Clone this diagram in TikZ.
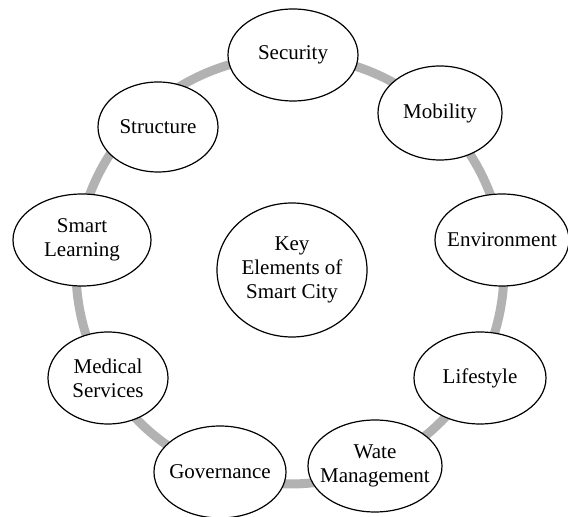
\documentclass[tikz,border=0pt]{standalone}
\usepackage{fontspec}
\setmainfont{Liberation Serif}
\usetikzlibrary{shapes}

\begin{document}
\begin{tikzpicture}[
    x=0.5pt, y=-0.5pt,
    elem/.style={draw, fill=white, ellipse, inner sep=0pt, inner xsep=-5pt, line width=0.6pt, minimum width=65pt, minimum height=46pt, font=\fontsize{10.5}{12}\selectfont, align=center},
    hubelem/.style={elem, minimum width=75pt, minimum height=67pt},
    ring/.style={draw=black!30, line width=4.5pt}
]
\useasboundingbox (0,0) rectangle (568,517);

% Ring behind the elements
\coordinate (hub) at (290,270);
\draw[ring] (hub) circle[radius=107pt];

% Centre
\node[hubelem] (key) at (292,270) {Key\\Elements of\\Smart City};

% Elements round the ring
\node[elem] (security) at (293,55) {Security};
\node[elem, minimum width=62pt, minimum height=47pt] (mobility) at (440,113) {Mobility};
\node[elem, minimum width=67pt] (environment) at (502,240) {Environment};
\node[elem, minimum width=66pt] (lifestyle) at (480,378) {Lifestyle};
\node[elem, minimum width=67pt] (water) at (375,466) {Wate\\Management};
\node[elem, minimum width=66pt] (governance) at (220,472) {Governance};
\node[elem, minimum width=60pt] (medical) at (108,378) {Medical\\Services};
\node[elem, minimum width=69pt] (learning) at (82,240) {Smart\\Learning};
\node[elem, minimum width=60pt, minimum height=45pt] (structure) at (158,127) {Structure};
\end{tikzpicture}
\end{document}
